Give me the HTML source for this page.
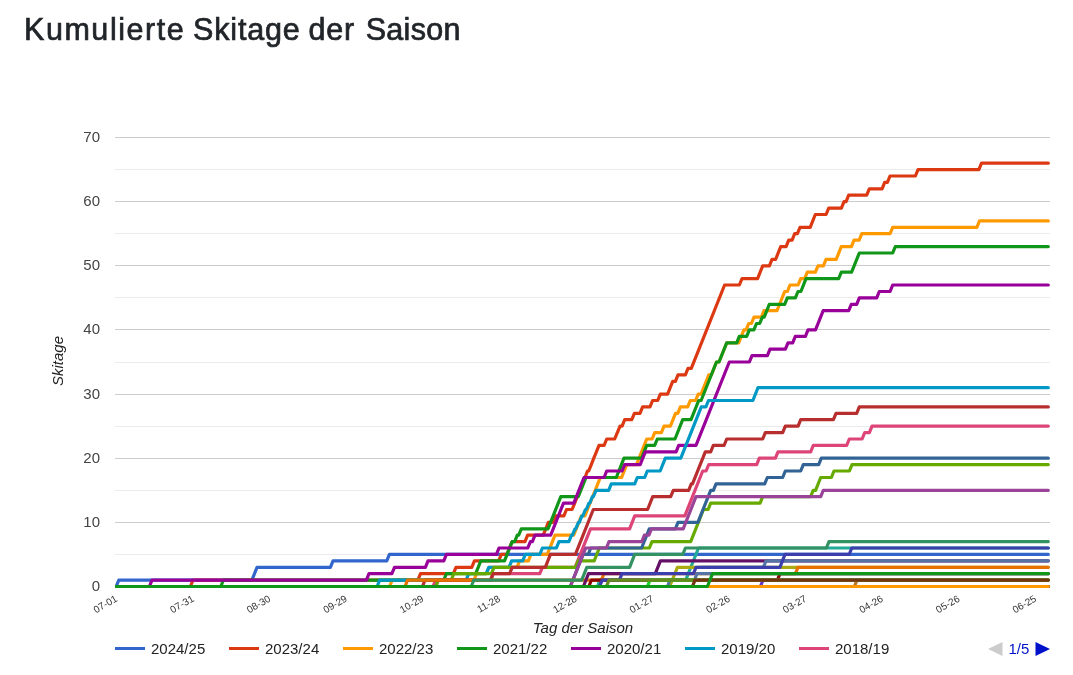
<!DOCTYPE html>
<html lang="de">
<head>
<meta charset="utf-8">
<title>Kumulierte Skitage der Saison</title>
<style>
html,body{margin:0;padding:0;background:#ffffff;}
body{width:1073px;height:675px;overflow:hidden;position:relative;font-family:"Liberation Sans",Arial,sans-serif;color:#212529;}
h2{position:absolute;left:24px;top:10px;margin:0;font-size:30.5px;line-height:38px;font-weight:400;color:#212529;white-space:nowrap;letter-spacing:0.82px;-webkit-text-stroke:0.7px #212529;}
.w1{letter-spacing:1.55px;}.w2{letter-spacing:0.82px;margin-left:-1.5px;}.w3{letter-spacing:0.82px;margin-left:-1.5px;}.w4{letter-spacing:0.3px;margin-left:1.5px;}
svg{position:absolute;left:0;top:0;}
</style>
</head>
<body>
<h2 id="title"><span class="w1">Kumulierte</span> <span class="w2">Skitage</span> <span class="w3">der</span> <span class="w4">Saison</span></h2>
<svg width="1073" height="675" viewBox="0 0 1073 675">
<rect x="115" y="586" width="935" height="1" fill="#cccccc"/>
<rect x="115" y="554" width="935" height="1" fill="#ebebeb"/>
<rect x="115" y="522" width="935" height="1" fill="#cccccc"/>
<rect x="115" y="490" width="935" height="1" fill="#ebebeb"/>
<rect x="115" y="458" width="935" height="1" fill="#cccccc"/>
<rect x="115" y="426" width="935" height="1" fill="#ebebeb"/>
<rect x="115" y="394" width="935" height="1" fill="#cccccc"/>
<rect x="115" y="362" width="935" height="1" fill="#ebebeb"/>
<rect x="115" y="329" width="935" height="1" fill="#cccccc"/>
<rect x="115" y="297" width="935" height="1" fill="#ebebeb"/>
<rect x="115" y="265" width="935" height="1" fill="#cccccc"/>
<rect x="115" y="233" width="935" height="1" fill="#ebebeb"/>
<rect x="115" y="201" width="935" height="1" fill="#cccccc"/>
<rect x="115" y="169" width="935" height="1" fill="#ebebeb"/>
<rect x="115" y="137" width="935" height="1" fill="#cccccc"/>
<rect x="115" y="586" width="935" height="1" fill="#333333"/>
<defs><clipPath id="ca"><rect x="115" y="130" width="936" height="460"/></clipPath></defs>
<g clip-path="url(#ca)" fill="none" stroke-width="3.2" stroke-linejoin="round" stroke-linecap="round">
<path d="M114.8,586.5 L116.2,586.5 L118.8,580.1 L251.9,580.1 L257.0,567.3 L330.4,567.3 L333.0,560.8 L386.8,560.8 L389.4,554.4 L1048.3,554.4" stroke="#3366cc"/>
<path d="M114.8,586.5 L190.4,586.5 L193.0,580.1 L417.9,580.1 L420.5,573.7 L453.4,573.7 L456.0,567.3 L471.8,567.3 L474.4,560.8 L498.7,560.8 L501.3,554.4 L506.9,554.4 L509.5,548.0 L509.5,548.0 L512.1,541.6 L525.0,541.6 L527.6,535.2 L543.2,535.2 L545.8,528.8 L545.8,528.8 L548.3,522.4 L552.9,522.4 L555.5,515.9 L563.9,515.9 L566.5,509.5 L572.1,509.5 L574.7,503.1 L574.7,503.1 L577.3,496.7 L577.3,496.7 L579.8,490.3 L579.8,490.3 L582.4,483.9 L582.4,483.9 L585.0,477.5 L585.0,477.5 L587.5,471.0 L588.7,471.0 L591.3,464.6 L591.3,464.6 L593.8,458.2 L593.8,458.2 L596.4,451.8 L596.4,451.8 L599.0,445.4 L604.1,445.4 L606.7,439.0 L614.7,439.0 L617.3,432.6 L617.4,432.6 L620.0,426.1 L622.1,426.1 L624.7,419.7 L631.8,419.7 L634.4,413.3 L640.0,413.3 L642.6,406.9 L650.0,406.9 L652.6,400.5 L657.7,400.5 L660.3,394.1 L667.6,394.1 L672.7,381.3 L675.4,381.3 L678.0,374.8 L685.4,374.8 L688.0,368.4 L691.3,368.4 L724.6,285.0 L739.4,285.0 L742.0,278.6 L757.6,278.6 L762.7,265.8 L769.4,265.8 L772.0,259.4 L775.6,259.4 L780.7,246.6 L786.1,246.6 L788.7,240.1 L792.1,240.1 L794.7,233.7 L797.4,233.7 L800.0,227.3 L810.2,227.3 L815.3,214.5 L826.1,214.5 L828.7,208.1 L841.4,208.1 L844.0,201.7 L846.1,201.7 L848.7,195.2 L866.7,195.2 L869.3,188.8 L882.1,188.8 L884.7,182.4 L887.4,182.4 L890.0,176.0 L915.4,176.0 L918.0,169.6 L978.9,169.6 L981.5,163.2 L1048.3,163.2" stroke="#dc3912"/>
<path d="M114.8,586.5 L389.6,586.5 L392.2,580.1 L474.0,580.1 L476.6,573.7 L486.4,573.7 L489.0,567.3 L517.0,567.3 L519.6,560.8 L528.4,560.8 L531.0,554.4 L547.3,554.4 L555.0,535.2 L573.7,535.2 L581.4,515.9 L584.9,515.9 L590.0,503.1 L590.1,503.1 L600.3,477.5 L621.6,477.5 L626.7,464.6 L636.5,464.6 L646.7,439.0 L652.1,439.0 L654.7,432.6 L661.4,432.6 L664.0,426.1 L670.4,426.1 L675.5,413.3 L677.8,413.3 L680.4,406.9 L687.7,406.9 L690.3,400.5 L695.6,400.5 L698.2,394.1 L701.1,394.1 L708.8,374.8 L711.4,374.8 L716.5,362.0 L719.0,362.0 L726.7,342.8 L738.7,342.8 L741.3,336.4 L741.3,336.4 L743.9,329.9 L746.1,329.9 L748.7,323.5 L751.4,323.5 L754.0,317.1 L761.4,317.1 L764.0,310.7 L777.0,310.7 L784.7,291.5 L787.4,291.5 L790.0,285.0 L798.1,285.0 L800.7,278.6 L804.7,278.6 L807.3,272.2 L815.4,272.2 L818.0,265.8 L823.4,265.8 L826.0,259.4 L836.2,259.4 L841.3,246.6 L851.4,246.6 L854.0,240.1 L859.2,240.1 L861.8,233.7 L890.1,233.7 L892.7,227.3 L976.9,227.3 L979.5,220.9 L1048.3,220.9" stroke="#ff9900"/>
<path d="M114.8,586.5 L220.8,586.5 L223.4,580.1 L443.8,580.1 L446.4,573.7 L475.7,573.7 L480.8,560.8 L504.5,560.8 L512.2,541.6 L514.7,541.6 L517.3,535.2 L518.7,535.2 L521.3,528.8 L548.0,528.8 L560.8,496.7 L578.3,496.7 L586.0,477.5 L616.3,477.5 L624.0,458.2 L641.6,458.2 L646.7,445.4 L654.7,445.4 L657.3,439.0 L675.0,439.0 L682.7,419.7 L691.0,419.7 L698.7,400.5 L701.1,400.5 L716.5,362.0 L719.0,362.0 L726.7,342.8 L736.7,342.8 L739.3,336.4 L746.7,336.4 L749.3,329.9 L753.9,329.9 L756.5,323.5 L759.7,323.5 L762.3,317.1 L764.2,317.1 L769.3,304.3 L784.7,304.3 L787.3,297.9 L795.4,297.9 L798.0,291.5 L800.9,291.5 L806.0,278.6 L838.7,278.6 L841.3,272.2 L851.6,272.2 L859.3,253.0 L892.7,253.0 L895.3,246.6 L1048.3,246.6" stroke="#109618"/>
<path d="M114.8,586.5 L149.4,586.5 L152.0,580.1 L366.4,580.1 L369.0,573.7 L391.9,573.7 L394.5,567.3 L425.4,567.3 L428.0,560.8 L443.8,560.8 L446.4,554.4 L496.4,554.4 L499.0,548.0 L527.8,548.0 L530.4,541.6 L532.4,541.6 L535.0,535.2 L550.7,535.2 L563.5,503.1 L573.8,503.1 L584.0,477.5 L604.1,477.5 L606.7,471.0 L622.1,471.0 L624.7,464.6 L640.2,464.6 L645.3,451.8 L676.1,451.8 L678.7,445.4 L696.0,445.4 L729.3,362.0 L749.4,362.0 L752.0,355.6 L767.4,355.6 L770.0,349.2 L785.4,349.2 L788.0,342.8 L792.7,342.8 L795.3,336.4 L805.4,336.4 L808.0,329.9 L815.5,329.9 L823.2,310.7 L848.7,310.7 L851.3,304.3 L856.7,304.3 L859.3,297.9 L876.7,297.9 L879.3,291.5 L890.1,291.5 L892.7,285.0 L1048.3,285.0" stroke="#990099"/>
<path d="M114.8,586.5 L377.1,586.5 L379.7,580.1 L466.1,580.1 L468.7,573.7 L486.2,573.7 L488.8,567.3 L509.0,567.3 L511.6,560.8 L522.7,560.8 L525.3,554.4 L539.8,554.4 L542.4,548.0 L556.4,548.0 L559.0,541.6 L568.9,541.6 L571.5,535.2 L572.4,535.2 L575.0,528.8 L575.8,528.8 L578.4,522.4 L579.3,522.4 L581.9,515.9 L582.8,515.9 L585.4,509.5 L586.3,509.5 L588.9,503.1 L589.8,503.1 L592.4,496.7 L593.4,496.7 L596.0,490.3 L608.7,490.3 L611.3,483.9 L634.7,483.9 L637.3,477.5 L644.7,477.5 L647.3,471.0 L660.2,471.0 L665.3,458.2 L680.8,458.2 L701.3,406.9 L705.9,406.9 L708.5,400.5 L752.9,400.5 L758.0,387.7 L1048.3,387.7" stroke="#0099c6"/>
<path d="M114.8,586.5 L433.0,586.5 L435.6,580.1 L490.4,580.1 L493.0,573.7 L539.8,573.7 L542.4,567.3 L575.1,567.3 L590.5,528.8 L629.6,528.8 L634.7,515.9 L684.8,515.9 L702.7,471.0 L706.1,471.0 L708.7,464.6 L756.7,464.6 L759.3,458.2 L775.4,458.2 L778.0,451.8 L810.7,451.8 L813.3,445.4 L846.7,445.4 L849.3,439.0 L862.1,439.0 L864.7,432.6 L869.4,432.6 L872.0,426.1 L1048.3,426.1" stroke="#dd4477"/>
<path d="M114.8,586.5 L435.8,586.5 L438.4,580.1 L451.2,580.1 L453.8,573.7 L491.4,573.7 L494.0,567.3 L575.6,567.3 L578.2,560.8 L594.2,560.8 L599.3,548.0 L649.4,548.0 L652.0,541.6 L690.7,541.6 L703.5,509.5 L708.1,509.5 L710.7,503.1 L760.1,503.1 L762.7,496.7 L810.6,496.7 L813.2,490.3 L815.6,490.3 L820.7,477.5 L831.4,477.5 L834.0,471.0 L849.4,471.0 L852.0,464.6 L1048.3,464.6" stroke="#66aa00"/>
<path d="M114.8,586.5 L422.4,586.5 L425.0,580.1 L490.7,580.1 L493.3,573.7 L509.6,573.7 L512.2,567.3 L545.3,567.3 L550.4,554.4 L575.4,554.4 L593.3,509.5 L647.6,509.5 L652.7,496.7 L670.7,496.7 L673.3,490.3 L688.7,490.3 L691.3,483.9 L692.5,483.9 L705.3,451.8 L710.7,451.8 L713.3,445.4 L724.1,445.4 L726.7,439.0 L762.7,439.0 L765.3,432.6 L782.7,432.6 L785.3,426.1 L798.1,426.1 L800.7,419.7 L833.4,419.7 L836.0,413.3 L856.7,413.3 L859.3,406.9 L1048.3,406.9" stroke="#b82e2e"/>
<path d="M114.8,586.5 L570.3,586.5 L583.1,554.4 L588.2,554.4 L590.8,548.0 L641.6,548.0 L649.3,528.8 L675.4,528.8 L678.0,522.4 L697.9,522.4 L710.7,490.3 L713.4,490.3 L716.0,483.9 L764.7,483.9 L767.3,477.5 L782.7,477.5 L785.3,471.0 L800.7,471.0 L803.3,464.6 L818.7,464.6 L821.3,458.2 L1048.3,458.2" stroke="#316395"/>
<path d="M114.8,586.5 L570.3,586.5 L585.7,548.0 L606.4,548.0 L609.0,541.6 L641.8,541.6 L644.4,535.2 L648.9,535.2 L651.5,528.8 L683.2,528.8 L696.0,496.7 L820.7,496.7 L823.3,490.3 L1048.3,490.3" stroke="#994499"/>
<path d="M114.8,586.5 L597.4,586.5 L600.0,580.1 L685.7,580.1 L698.5,548.0 L1048.3,548.0" stroke="#22aa99"/>
<path d="M114.8,586.5 L669.7,586.5 L677.4,567.3 L1048.3,567.3" stroke="#aaaa11"/>
<path d="M114.8,586.5 L760.4,586.5 L763.0,580.1 L1048.3,580.1" stroke="#6633cc"/>
<path d="M114.8,586.5 L405.0,586.5 L407.6,580.1 L601.4,580.1 L604.0,573.7 L795.4,573.7 L798.0,567.3 L1048.3,567.3" stroke="#e67300"/>
<path d="M114.8,586.5 L588.8,586.5 L591.4,580.1 L777.4,580.1 L780.0,573.7 L1048.3,573.7" stroke="#8b0707"/>
<path d="M114.8,586.5 L583.4,586.5 L588.5,573.7 L655.3,573.7 L660.4,560.8 L1048.3,560.8" stroke="#651067"/>
<path d="M114.8,586.5 L471.2,586.5 L473.8,580.1 L581.7,580.1 L586.8,567.3 L629.6,567.3 L634.7,554.4 L682.8,554.4 L685.4,548.0 L826.4,548.0 L829.0,541.6 L1048.3,541.6" stroke="#329262"/>
<path d="M114.8,586.5 L667.4,586.5 L670.0,580.1 L694.4,580.1 L697.0,573.7 L1048.3,573.7" stroke="#5574a6"/>
<path d="M700.0,567.3 L763.4,567.3 L766.0,560.8 L1048.3,560.8" stroke="#5574a6"/>
<path d="M114.8,586.5 L599.6,586.5 L602.2,580.1 L619.4,580.1 L622.0,573.7 L693.4,573.7 L696.0,567.3 L779.9,567.3 L785.0,554.4 L849.2,554.4 L851.8,548.0 L1048.3,548.0" stroke="#3b3eac"/>
<path d="M114.8,586.5 L854.4,586.5 L857.0,580.1 L1048.3,580.1" stroke="#b77322"/>
<path d="M114.8,586.5 L647.4,586.5 L650.0,580.1 L1048.3,580.1" stroke="#16d620"/>
<path d="M114.8,586.5 L1048.3,586.5" stroke="#b91383"/>
<path d="M114.8,586.5 L1048.3,586.5" stroke="#f4359e"/>
<path d="M114.8,586.5 L1048.3,586.5" stroke="#9c5935"/>
<path d="M114.8,586.5 L1048.3,586.5" stroke="#a9c413"/>
<path d="M114.8,586.5 L1048.3,586.5" stroke="#2a778d"/>
<path d="M114.8,586.5 L606.4,586.5 L609.0,580.1 L1048.3,580.1" stroke="#668d1c"/>
<path d="M114.8,586.5 L1048.3,586.5" stroke="#bea413"/>
<path d="M114.8,586.5 L1048.3,586.5" stroke="#0c5922"/>
<path d="M114.8,586.5 L692.4,586.5 L695.0,580.1 L1048.3,580.1" stroke="#743411"/>
<path d="M114.8,586.5 L1048.3,586.5" stroke="#3366cc"/>
<path d="M114.8,586.5 L1048.3,586.5" stroke="#dc3912"/>
<path d="M114.8,586.5 L1048.3,586.5" stroke="#ff9900"/>
<path d="M114.8,586.5 L707.4,586.5 L712.5,573.7 L1048.3,573.7" stroke="#109618"/>
</g>
<g font-family="Liberation Sans, Arial, sans-serif" font-size="15" fill="#444444" text-anchor="end">
<text x="100" y="591.4">0</text>
<text x="100" y="527.4">10</text>
<text x="100" y="463.4">20</text>
<text x="100" y="399.4">30</text>
<text x="100" y="334.4">40</text>
<text x="100" y="270.4">50</text>
<text x="100" y="206.4">60</text>
<text x="100" y="142.4">70</text>
</g>
<g font-family="Liberation Sans, Arial, sans-serif" font-size="10" fill="#333333" text-anchor="end">
<text transform="translate(118.1,600.6) rotate(-30)" x="0" y="0">07-01</text>
<text transform="translate(194.7,600.6) rotate(-30)" x="0" y="0">07-31</text>
<text transform="translate(271.3,600.6) rotate(-30)" x="0" y="0">08-30</text>
<text transform="translate(347.8,600.6) rotate(-30)" x="0" y="0">09-29</text>
<text transform="translate(424.4,600.6) rotate(-30)" x="0" y="0">10-29</text>
<text transform="translate(501.0,600.6) rotate(-30)" x="0" y="0">11-28</text>
<text transform="translate(577.6,600.6) rotate(-30)" x="0" y="0">12-28</text>
<text transform="translate(654.2,600.6) rotate(-30)" x="0" y="0">01-27</text>
<text transform="translate(730.7,600.6) rotate(-30)" x="0" y="0">02-26</text>
<text transform="translate(807.3,600.6) rotate(-30)" x="0" y="0">03-27</text>
<text transform="translate(883.9,600.6) rotate(-30)" x="0" y="0">04-26</text>
<text transform="translate(960.5,600.6) rotate(-30)" x="0" y="0">05-26</text>
<text transform="translate(1037.1,600.6) rotate(-30)" x="0" y="0">06-25</text>
</g>
<text x="583" y="632.5" font-family="Liberation Sans, Arial, sans-serif" font-size="15" font-style="italic" fill="#222222" text-anchor="middle">Tag der Saison</text>
<text transform="translate(62.5,361) rotate(-90)" font-family="Liberation Sans, Arial, sans-serif" font-size="15" font-style="italic" fill="#222222" text-anchor="middle">Skitage</text>
<g font-family="Liberation Sans, Arial, sans-serif" font-size="15" fill="#222222">
<rect x="115" y="647" width="30" height="3" fill="#3366cc"/>
<text x="151" y="654">2024/25</text>
<rect x="229" y="647" width="30" height="3" fill="#dc3912"/>
<text x="265" y="654">2023/24</text>
<rect x="343" y="647" width="30" height="3" fill="#ff9900"/>
<text x="379" y="654">2022/23</text>
<rect x="457" y="647" width="30" height="3" fill="#109618"/>
<text x="493" y="654">2021/22</text>
<rect x="571" y="647" width="30" height="3" fill="#990099"/>
<text x="607" y="654">2020/21</text>
<rect x="685" y="647" width="30" height="3" fill="#0099c6"/>
<text x="721" y="654">2019/20</text>
<rect x="799" y="647" width="30" height="3" fill="#dd4477"/>
<text x="835" y="654">2018/19</text>
</g>
<path d="M1002.5,642 L1002.5,656 L988,649 Z" fill="#cccccc"/>
<text x="1008.5" y="654" font-family="Liberation Sans, Arial, sans-serif" font-size="15" fill="#0011cc">1/5</text>
<path d="M1035.5,642 L1035.5,656 L1050,649 Z" fill="#0011cc"/>
</svg>
</body>
</html>
